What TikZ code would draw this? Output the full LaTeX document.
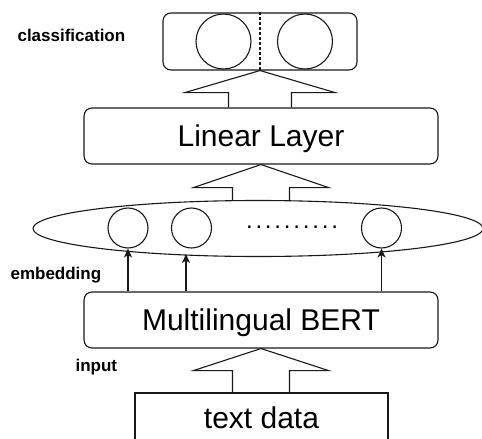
\documentclass[tikz,border=0pt]{standalone}
\usepackage{fontspec}
\setmainfont{Liberation Sans}
\usetikzlibrary{arrows.meta,shapes.geometric,calc}

\tikzset{
  layerbox/.style={draw, rounded corners=8pt, minimum width=354pt, minimum height=56pt,
    inner sep=0pt, font=\fontsize{30}{30}\selectfont, text height=21.5pt, text depth=0pt},
  unit/.style={draw, circle, inner sep=0pt},
  tag/.style={anchor=base west, inner sep=0pt, font=\fontsize{17}{17}\selectfont\bfseries},
  thin arrow/.style={-{Stealth[length=9pt,width=8pt,inset=2.5pt]}},
}

% hollow block arrow from the top of node #1 up to the bottom of node #2
% #3 shaft half width, #4 head half width, #5 head height
\newcommand\blockarrow[5]{%
  \draw[line join=miter] let \p1=(#2.south), \p2=(#1.north) in
    (\x1-#3,\y2) -- (\x1-#3,\y1-#5) -- (\x1-#4,\y1-#5) -- (\p1)
    -- (\x1+#4,\y1-#5) -- (\x1+#3,\y1-#5) -- (\x1+#3,\y2);%
}
\newcommand\dotgap{\kern2.8pt}

\begin{document}
\begin{tikzpicture}[x=1pt, y=-1pt, line width=1.1pt, draw=black!90]
\clip (0,0) rectangle (482,439);

% output layer
\node[draw, rounded corners=8pt, minimum width=194pt, minimum height=57pt, inner sep=0pt]
  (cls) at (260,41.5) {};
\node[unit, minimum size=55pt] (o1) at (223.5,41.5) {};
\node[unit, minimum size=55pt] (o2) at (305,41.5) {};
\draw[dash pattern=on 3pt off 2pt] (cls.north) -- (cls.south);
\node[tag] (lcls) at (17,41.5) {classification};

% linear layer
\node[layerbox] (lin) at (261,136) {Linear Layer};
\blockarrow{lin}{cls}{31.5pt}{75pt}{22pt}

% embedding vectors
\node[draw, ellipse, minimum width=450pt, minimum height=56pt, inner sep=0pt]
  (emb) at (258,228.5) {};
\node[unit, minimum size=40pt] (e1) at (128,228) {};
\node[unit, minimum size=40pt] (e2) at (191.5,228) {};
\node[unit, minimum size=40pt] (e3) at (381.5,228) {};
\node[anchor=base west, inner sep=0pt, font=\fontsize{24}{24}\selectfont] (dots) at (245.5,228.2)
  {.\dotgap.\dotgap.\dotgap.\dotgap.\dotgap.\dotgap.\dotgap.\dotgap.\dotgap.};
\coordinate (ebot) at (186,254);
\blockarrow{emb}{lin}{28.5pt}{67.5pt}{23pt}
\node[tag] (lemb) at (10,279) {embedding};

% encoder
\node[layerbox] (bert) at (261,320) {Multilingual BERT};
\draw[thin arrow] (bert.north -| e1) -- (e1.south);
\draw[thin arrow] (bert.north -| ebot) -- (ebot);
\draw[thin arrow] (bert.north -| e3) -- (e3.south);

% input
\node[tag] (linp) at (75,371) {input};
\node[draw, minimum width=253pt, minimum height=50pt, inner sep=0pt,
  font=\fontsize{30}{30}\selectfont, text height=21.5pt, text depth=0pt]
  (txt) at (261.5,418) {text data};
\blockarrow{txt}{bert}{28.5pt}{67.5pt}{22pt}
\end{tikzpicture}
\end{document}
